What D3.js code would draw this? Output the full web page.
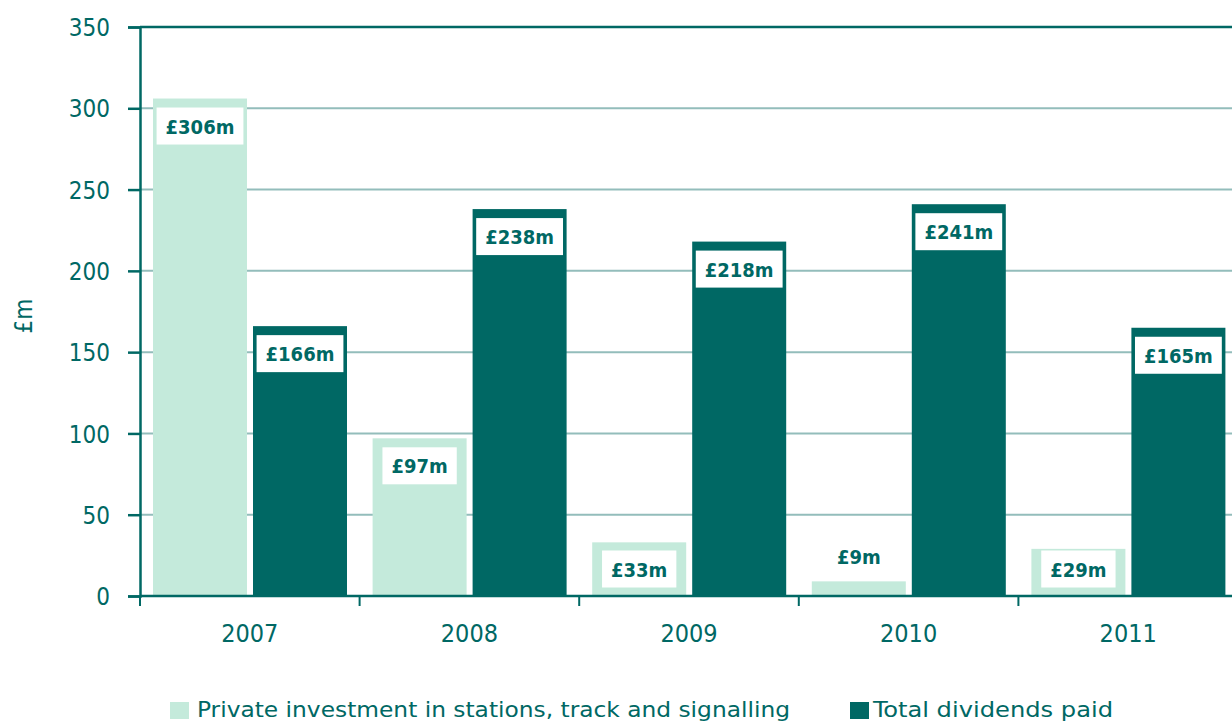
<!DOCTYPE html>
<html>
<head>
<meta charset="utf-8">
<script src="https://cdn.jsdelivr.net/npm/d3@7"></script>
<style>
  html, body { margin: 0; padding: 0; background: #ffffff; }
  svg { display: block; }
  text { font-family: "DejaVu Sans Condensed", "DejaVu Sans", Verdana, sans-serif; font-stretch: condensed; fill: #006864; }
</style>
</head>
<body>
<svg id="chart" width="1232" height="722"></svg>
<script>
// ---- Data ----
const years = ["2007", "2008", "2009", "2010", "2011"];
const seriesNames = ["Private investment in stations, track and signalling", "Total dividends paid"];
const privateInvestment = [306, 97, 33, 9, 29];
const dividends = [166, 238, 218, 241, 165];
const yTicks = [0, 50, 100, 150, 200, 250, 300, 350];
const yAxisTitle = "£m";

// ---- Style ----
const DARK = "#006864";
const LIGHT = "#C4EADB";
const GRID = "#93BDBB";
const colors = [LIGHT, DARK];
const FONT = "'DejaVu Sans Condensed', 'DejaVu Sans', Verdana, sans-serif";

const svg = d3.select("#chart");
const plotLeft = 140, plotTop = 27, plotBottom = 596;
const bandW = 219.6;

const x0 = d3.scaleBand().domain(years).range([plotLeft, plotLeft + bandW * years.length]).padding(0);
const x1 = d3.scaleBand().domain(d3.range(seriesNames.length)).range([13, 207]).paddingInner(0.06).paddingOuter(0);
const y = d3.scaleLinear().domain([0, 350]).range([plotBottom, plotTop]);

// gridlines
svg.append("g").selectAll("line").data(yTicks.filter(t => t > 0)).join("line")
  .attr("x1", plotLeft).attr("x2", 1232)
  .attr("y1", d => y(d)).attr("y2", d => y(d))
  .attr("stroke", d => d === 350 ? DARK : GRID)
  .attr("stroke-width", d => d === 350 ? 2.5 : 2);

// bars
const rows = years.map((yr, i) => ({ year: yr, values: [privateInvestment[i], dividends[i]] }));
const groups = svg.append("g").selectAll("g").data(rows).join("g")
  .attr("transform", d => `translate(${x0(d.year)},0)`);

groups.selectAll("rect.bar").data(d => d.values.map((v, k) => ({ v, k }))).join("rect")
  .attr("class", "bar")
  .attr("x", d => x1(d.k))
  .attr("width", x1.bandwidth())
  .attr("y", d => y(d.v))
  .attr("height", d => y(0) - y(d.v))
  .attr("fill", d => colors[d.k]);

// labels
const labelG = groups.selectAll("g.lab").data(d => d.values.map((v, k) => ({ v, k }))).join("g").attr("class", "lab");
labelG.each(function(d) {
  const g = d3.select(this);
  const cx = x1(d.k) + x1.bandwidth() / 2;
  const barTop = y(d.v);
  let cy;
  const inside = (y(0) - barTop) > 30;
  if (inside) cy = Math.min(barTop + 27.5, 569);
  else cy = barTop - 25;
  const t = g.append("text")
    .attr("x", cx).attr("y", cy + 7.5)
    .attr("text-anchor", "middle")
    .style("font-family", FONT)
    .style("font-size", "20px")
    .style("font-weight", "bold")
    .text("£" + d.v + "m");
  if (inside) {
    const w = t.node().getComputedTextLength();
    g.insert("rect", "text")
      .attr("x", cx - w / 2 - 9).attr("width", w + 18)
      .attr("y", cy - 18.5).attr("height", 37)
      .attr("fill", "#ffffff");
  }
});

// y axis
const yAxis = d3.axisLeft(y).tickValues(yTicks).tickSize(12).tickPadding(18).tickFormat(d3.format("d"));
const ya = svg.append("g").attr("transform", `translate(${plotLeft},0)`).call(yAxis);
ya.select(".domain").attr("stroke", DARK).attr("stroke-width", 2.5);
ya.selectAll(".tick line").attr("stroke", DARK).attr("stroke-width", 2.5);
ya.selectAll(".tick text").style("font-size", "24px").attr("fill", DARK).attr("dy", "0.36em")
  .style("font-family", FONT);

// x axis
const xa = svg.append("g").attr("transform", `translate(0,${plotBottom})`);
xa.append("line").attr("x1", plotLeft).attr("x2", 1232).attr("y1", 0).attr("y2", 0)
  .attr("stroke", DARK).attr("stroke-width", 2.5);
xa.selectAll("line.tk").data(years).join("line").attr("class", "tk")
  .attr("x1", d => x0(d)).attr("x2", d => x0(d))
  .attr("y1", 0).attr("y2", 10)
  .attr("stroke", DARK).attr("stroke-width", 2);
xa.selectAll("text").data(years).join("text")
  .attr("x", d => x0(d) + x0.bandwidth() / 2)
  .attr("y", 46)
  .attr("text-anchor", "middle")
  .style("font-family", FONT)
  .style("font-size", "25px")
  .text(d => d);

// y title
svg.append("text")
  .attr("transform", "translate(32,316) rotate(-90)")
  .attr("text-anchor", "middle")
  .style("font-family", FONT)
  .style("font-size", "24px")
  .text(yAxisTitle);

// legend
const legendItems = [
  { name: seriesNames[0], color: LIGHT, sx: 170, tx: 197, tw: 593 },
  { name: seriesNames[1], color: DARK, sx: 850, tx: 873, tw: 240 }
];
const lg = svg.append("g");
legendItems.forEach(it => {
  lg.append("rect").attr("x", it.sx).attr("y", 702).attr("width", 19).attr("height", 17).attr("fill", it.color);
  lg.append("text").attr("x", it.tx).attr("y", 717)
    .style("font-family", FONT)
    .style("font-size", "22px")
    .attr("textLength", it.tw).attr("lengthAdjust", "spacingAndGlyphs")
    .text(it.name);
});
</script>
</body>
</html>
